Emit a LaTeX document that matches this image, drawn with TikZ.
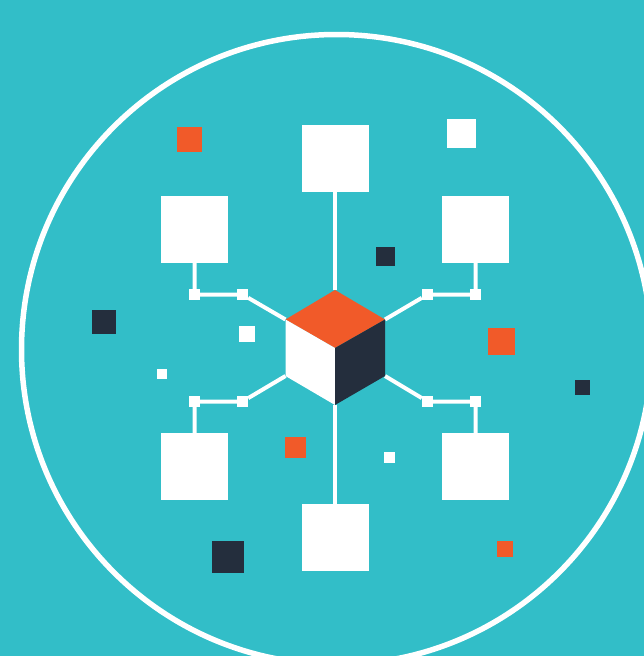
\documentclass[tikz,border=0pt]{standalone}
\usepackage{tikz}
\usetikzlibrary{positioning}
\definecolor{tealbg}{HTML}{32BEC8}
\definecolor{navy}{HTML}{242E3D}
\definecolor{orangered}{HTML}{F15A29}
\begin{document}
\begin{tikzpicture}[x=1pt,y=-1pt]
  \tikzset{
    bigbox/.style={draw=none,fill=white,inner sep=0pt,minimum size=67pt},
    joint/.style={draw=none,fill=white,inner sep=0pt,minimum size=11pt},
    speck/.style={draw=none,inner sep=0pt},
    link/.style={draw=white,line width=4pt}
  }
  \useasboundingbox (0,0) rectangle (644,656);
  \clip (0,0) rectangle (644,656);
  \fill[tealbg] (0,0) rectangle (644,656);
  \node[draw=white,line width=5.5pt,circle,inner sep=0pt,minimum size=630pt] (ring) at (336.5,349.5) {};
  % big boxes
  \node[bigbox] (bT) at (335.5,158.5) {};
  \node[bigbox] (bB) at (335.5,537.5) {};
  \node[bigbox] (bTL) at (194.5,229.5) {};
  \node[bigbox] (bTR) at (475.5,229.5) {};
  \node[bigbox] (bBL) at (194.5,466.5) {};
  \node[bigbox] (bBR) at (475.5,466.5) {};
  % joints
  \node[joint] (jTLa) at (194.5,294.5) {};
  \node[joint] (jTLb) at (242.5,294.5) {};
  \node[joint] (jTRa) at (475.5,294.5) {};
  \node[joint] (jTRb) at (427.5,294.5) {};
  \node[joint] (jBLa) at (194.5,401.5) {};
  \node[joint] (jBLb) at (242.5,401.5) {};
  \node[joint] (jBRa) at (475.5,401.5) {};
  \node[joint] (jBRb) at (427.5,401.5) {};
  % cube corners
  \coordinate (cTop) at (335,290);
  \coordinate (cMid) at (335,348);
  \coordinate (cBot) at (335,405);
  \coordinate (cUL) at (285.5,319.5);
  \coordinate (cUR) at (385,319.5);
  \coordinate (cLL) at (285.5,376);
  \coordinate (cLR) at (385,376);
  % links
  \draw[link] (bT.south -| cTop) -- (cTop);
  \draw[link] (bB.north -| cBot) -- (cBot);
  \draw[link] (bTL) -- (jTLa) -- (jTLb) -- (cUL);
  \draw[link] (bTR) -- (jTRa) -- (jTRb) -- (cUR);
  \draw[link] (bBL) -- (jBLa) -- (jBLb) -- (cLL);
  \draw[link] (bBR) -- (jBRa) -- (jBRb) -- (cLR);
  % cube
  \fill[orangered] (cTop) -- (cUR) -- (cMid) -- (cUL) -- cycle;
  \fill[white] (cUL) -- (cMid) -- (cBot) -- (cLL) -- cycle;
  \fill[navy] (cUR) -- (cMid) -- (cBot) -- (cLR) -- cycle;
  % loose squares
  \node[speck,fill=orangered,minimum size=25pt] (s1) at (189.5,139.5) {};
  \node[speck,fill=white,minimum size=29pt] (s2) at (461.5,133.5) {};
  \node[speck,fill=navy,minimum size=19pt] (s3) at (385.5,256.5) {};
  \node[speck,fill=navy,minimum size=24pt] (s4) at (104,322) {};
  \node[speck,fill=white,minimum size=16pt] (s5) at (247,334) {};
  \node[speck,fill=orangered,minimum size=27pt] (s6) at (501.5,341.5) {};
  \node[speck,fill=white,minimum size=10pt] (s7) at (162,374) {};
  \node[speck,fill=navy,minimum size=15pt] (s8) at (582.5,387.5) {};
  \node[speck,fill=orangered,minimum size=21pt] (s9) at (295.5,447.5) {};
  \node[speck,fill=white,minimum size=11pt] (s10) at (389.5,457.5) {};
  \node[speck,fill=navy,minimum size=32pt] (s11) at (228,557) {};
  \node[speck,fill=orangered,minimum size=16pt] (s12) at (505,549) {};
\end{tikzpicture}
\end{document}
